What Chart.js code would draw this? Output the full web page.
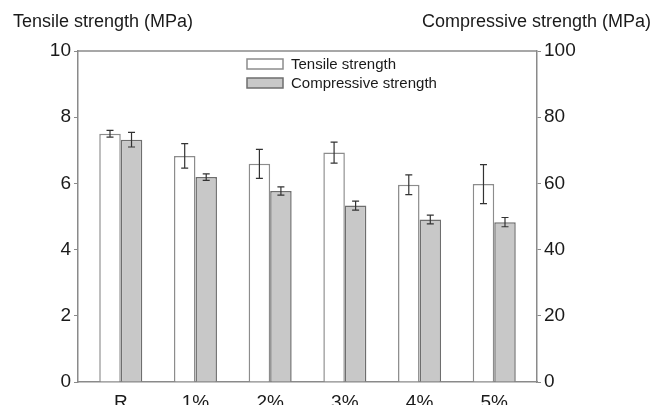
<!DOCTYPE html>
<html>
<head>
<meta charset="utf-8">
<script src="https://cdn.jsdelivr.net/npm/chart.js@4"></script>
<style>
  html, body { margin: 0; padding: 0; background: #fff; }
  #wrap { width: 655px; height: 405px; }
</style>
</head>
<body>
<div id="wrap"><canvas id="myChart"></canvas></div>
<script>
const categories = ["R", "1%", "2%", "3%", "4%", "5%"];
const tensile = [7.5, 6.83, 6.59, 6.93, 5.96, 5.98];
const tensileErr = [0.1, 0.37, 0.44, 0.32, 0.3, 0.59];
const compressive = [73.2, 61.9, 57.7, 53.3, 49.1, 48.3];
const compressiveErr = [2.2, 1.0, 1.25, 1.35, 1.3, 1.4];
const leftTicks = [0, 2, 4, 6, 8, 10];
const rightTicks = [0, 20, 40, 60, 80, 100];

const fontFamily = "'Liberation Sans', Arial, sans-serif";
const axisColor = '#8a8a8a';
const textColor = '#1a1a1a';

// error bars, top frame line, legend and axis titles
const extras = {
    id: 'extras',
    afterDatasetsDraw(chart) {
        const ctx = chart.ctx;
        const errs = [tensileErr, compressiveErr];
        ctx.save();
        ctx.strokeStyle = '#333';
        ctx.lineWidth = 1.2;
        chart.data.datasets.forEach((ds, i) => {
            const meta = chart.getDatasetMeta(i);
            const yScale = chart.scales[ds.yAxisID];
            meta.data.forEach((bar, j) => {
                const v = ds.data[j].y;
                const e = errs[i][j];
                const yTop = yScale.getPixelForValue(v + e);
                const yBot = yScale.getPixelForValue(v - e);
                const x = bar.x;
                ctx.beginPath();
                ctx.moveTo(x, yTop); ctx.lineTo(x, yBot);
                ctx.moveTo(x - 3.5, yTop); ctx.lineTo(x + 3.5, yTop);
                ctx.moveTo(x - 3.5, yBot); ctx.lineTo(x + 3.5, yBot);
                ctx.stroke();
            });
        });
        ctx.restore();
    },
    afterDraw(chart) {
        const ctx = chart.ctx;
        const a = chart.chartArea;
        ctx.save();
        ctx.strokeStyle = axisColor;
        ctx.lineWidth = 1.5;
        ctx.beginPath();
        ctx.moveTo(a.left, a.top);
        ctx.lineTo(a.right, a.top);
        ctx.stroke();

        // legend
        ctx.font = '15px ' + fontFamily;
        ctx.textBaseline = 'middle';
        ctx.textAlign = 'left';
        chart.data.datasets.forEach((ds, i) => {
            const y = 59 + i * 19;
            ctx.fillStyle = ds.backgroundColor;
            ctx.fillRect(247, y, 36, 10);
            ctx.strokeStyle = ds.borderColor;
            ctx.lineWidth = 1.5;
            ctx.strokeRect(247, y, 36, 10);
            ctx.fillStyle = textColor;
            ctx.fillText(ds.label, 291, y + 5.5);
        });

        // axis titles
        ctx.fillStyle = textColor;
        ctx.font = '18px ' + fontFamily;
        ctx.textAlign = 'left';
        ctx.fillText('Tensile strength (MPa)', 13, 22);
        ctx.textAlign = 'right';
        ctx.fillText('Compressive strength (MPa)', 651, 22);
        ctx.restore();
    }
};

new Chart(document.getElementById('myChart'), {
    type: 'bar',
    data: {
        datasets: [
            {
                label: 'Tensile strength',
                data: tensile.map((v, i) => ({ x: i, y: v })),
                yAxisID: 'y',
                backgroundColor: '#ffffff',
                borderColor: '#8c8c8c',
                borderWidth: 1.5
            },
            {
                label: 'Compressive strength',
                data: compressive.map((v, i) => ({ x: i, y: v })),
                yAxisID: 'y1',
                backgroundColor: '#c8c8c8',
                borderColor: '#6e6e6e',
                borderWidth: 1.5
            }
        ]
    },
    options: {
        responsive: true,
        maintainAspectRatio: false,
        animation: false,
        layout: { padding: { top: 51, left: 0, right: 0, bottom: 0 } },
        datasets: {
            bar: { barPercentage: 1.0, categoryPercentage: 0.576 }
        },
        plugins: {
            legend: { display: false },
            tooltip: { enabled: false }
        },
        scales: {
            x: {
                type: 'linear',
                offset: false,
                min: -0.5725,
                max: 5.5725,
                afterFit(scale) { scale.height = 23; },
                afterBuildTicks(scale) { scale.ticks = categories.map((c, i) => ({ value: i })); },
                grid: { display: false, drawTicks: false },
                border: { display: true, color: axisColor, width: 1.5 },
                ticks: {
                    color: textColor,
                    padding: 9,
                    autoSkip: false,
                    maxRotation: 0,
                    font: { family: fontFamily, size: 19 },
                    callback: (v) => categories[v]
                }
            },
            y: {
                position: 'left',
                min: 0,
                max: 10,
                afterFit(scale) { scale.width = 78; },
                afterBuildTicks(scale) { scale.ticks = leftTicks.map(v => ({ value: v })); },
                grid: { drawOnChartArea: false, tickLength: 4, color: axisColor },
                border: { display: true, color: axisColor, width: 1.5 },
                ticks: {
                    color: textColor,
                    padding: 3,
                    font: { family: fontFamily, size: 19 }
                }
            },
            y1: {
                position: 'right',
                min: 0,
                max: 100,
                afterFit(scale) { scale.width = 118; },
                afterBuildTicks(scale) { scale.ticks = rightTicks.map(v => ({ value: v })); },
                grid: { drawOnChartArea: false, tickLength: 4, color: axisColor },
                border: { display: true, color: axisColor, width: 1.5 },
                ticks: {
                    color: textColor,
                    padding: 3,
                    font: { family: fontFamily, size: 19 }
                }
            }
        }
    },
    plugins: [extras]
});
</script>
</body>
</html>
